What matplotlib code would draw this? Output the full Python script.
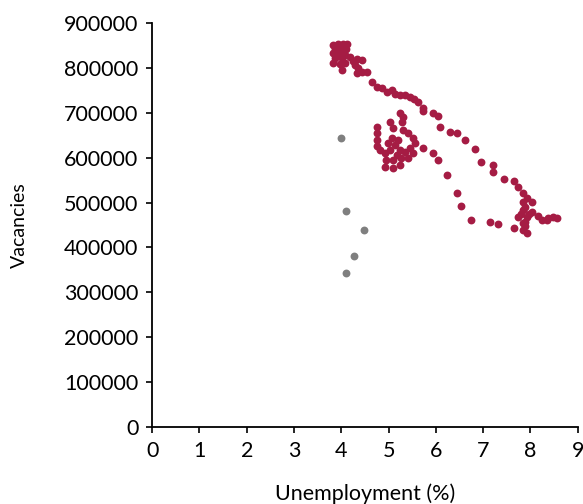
import matplotlib
matplotlib.use("Agg")
import matplotlib.pyplot as plt
import numpy as np

plt.rcParams['font.family'] = ['Lato', 'DejaVu Sans']

# unemployment (%) and vacancies, main series
unemployment = [3.83, 3.93, 4.04, 4.12, 3.87, 4.00, 4.10, 3.83, 3.95, 4.08,
                3.87, 4.02, 3.83, 3.97, 4.08, 4.02, 4.19, 4.25, 4.33, 4.44,
                4.29, 4.36, 4.33, 4.44, 4.55,
                4.65, 4.76, 4.86, 4.97, 5.07, 5.14, 5.24, 5.35, 5.45, 5.54,
                5.62, 5.73, 5.73, 5.94, 6.05, 6.09, 6.30, 6.45, 6.62, 6.83,
                6.96, 7.21, 7.21, 7.44, 7.65, 7.74, 7.84, 7.84, 8.03, 7.84,
                7.93, 7.89, 7.74, 8.03, 8.16, 8.25, 8.37, 8.48, 8.56, 8.35,
                7.84, 7.93, 7.89, 7.65, 7.31, 7.15, 6.74, 6.53, 6.45, 6.24,
                6.05, 5.94, 5.73,
                4.76, 4.76, 4.76, 4.76, 4.82, 4.93, 5.03, 5.10, 4.99, 5.24,
                5.31, 5.29, 5.31, 5.41, 5.52, 5.56, 5.52, 5.41, 5.18, 5.10,
                5.10, 4.93, 5.03, 5.14, 5.24, 5.35, 5.20, 5.07, 4.95, 5.26,
                5.45, 5.24,
                7.93, 7.89, 7.97, 7.80, 7.84]
vacancies = [851, 853, 853, 853, 842, 840, 842, 833, 831, 829,
             822, 822, 811, 809, 811, 795, 824, 815, 820, 818,
             807, 800, 789, 791, 791,
             769, 758, 755, 746, 751, 742, 740, 740, 735, 731,
             724, 711, 704, 700, 693, 668, 657, 655, 639, 619,
             590, 584, 568, 553, 548, 535, 521, 501, 501, 483,
             468, 457, 468, 479, 470, 461, 466, 468, 466, 461,
             439, 432, 448, 443, 452, 457, 461, 492, 521, 561,
             595, 610, 622,
             668, 655, 639, 626, 617, 610, 680, 666, 633, 700,
             691, 680, 662, 655, 644, 633, 610, 599, 606, 595,
             577, 579, 617, 628, 617, 613, 639, 644, 595, 599,
             622, 584,
             510, 490, 475, 475, 455]

# grey points
unemployment_grey = [4.00, 4.10, 4.48, 4.27, 4.10]
vacancies_grey = [644, 481, 439, 381, 343]

fig = plt.figure(figsize=(5.83, 5.04), dpi=100)
ax = fig.add_axes([0.261, 0.153, 0.73, 0.801])

ax.scatter(unemployment, np.array(vacancies) * 1000, s=32, color="#a51c44",
           linewidths=0, zorder=3, clip_on=False)
ax.scatter(unemployment_grey, np.array(vacancies_grey) * 1000, s=32,
           color="#7f7f7f", linewidths=0, zorder=3)

ax.set_xlim(0, 9)
ax.set_ylim(0, 900000)
ax.set_xticks(range(0, 10))
ax.set_yticks(range(0, 900001, 100000))
ax.spines["top"].set_visible(False)
ax.spines["right"].set_visible(False)
ax.spines["left"].set_linewidth(1.3)
ax.spines["bottom"].set_linewidth(1.3)
ax.tick_params(labelsize=15.5, length=4, width=1.2, pad=6)

ax.set_xlabel("Unemployment (%)", fontsize=15.5, labelpad=16)
ax.set_ylabel("Vacancies", fontsize=14, labelpad=26)

fig.savefig("out.png", dpi=100)
